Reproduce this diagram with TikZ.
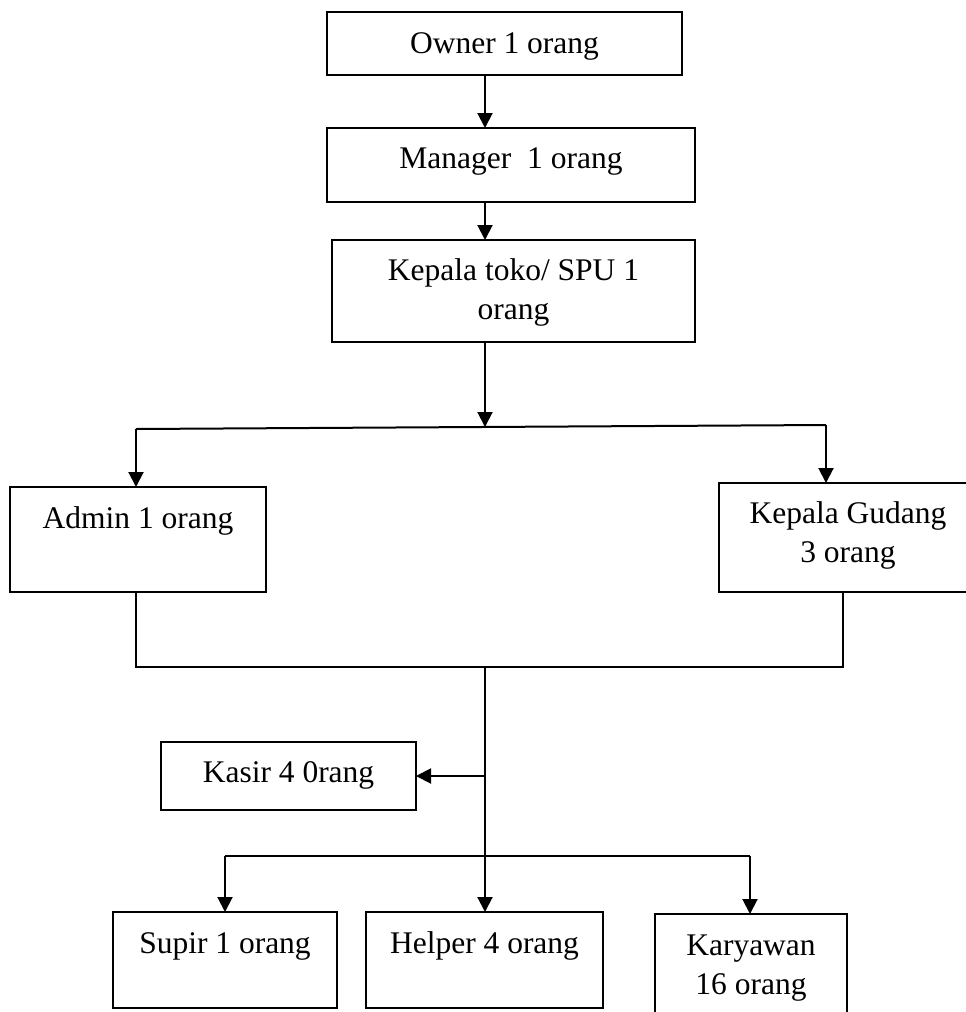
\documentclass[tikz,border=0pt]{standalone}
\usepackage{fontspec}
\setmainfont{Liberation Serif}
\usetikzlibrary{arrows.meta}
\newcommand\twolines[1]{\begin{tabular}[t]{@{}c@{}}#1\end{tabular}}
\begin{document}
\begin{tikzpicture}[x=1pt,y=-1pt,
  box/.style={draw, line width=1.8pt, inner sep=0pt, outer sep=0pt, anchor=north west,
    font=\fontsize{31.5pt}{39pt}\selectfont},
  ln/.style={line width=2pt},
  arr/.style={line width=2pt, -{Triangle[length=15pt,width=15pt]}}]
\useasboundingbox (0,0) rectangle (966,1012);
\node[box, minimum width=355pt, text height=41pt, text depth=22pt] (owner) at (327,12) {Owner 1 orang};
\node[box, minimum width=368pt, text height=40pt, text depth=34pt] (manager) at (327,128) {Manager\ \ 1 orang};
\node[box, minimum width=363pt, text height=40pt, text depth=62pt] (kt) at (332,240) {\twolines{Kepala toko/ SPU 1\\orang}};
\node[box, minimum width=256pt, text height=41pt, text depth=64pt] (admin) at (10,487) {Admin 1 orang};
\node[box, minimum width=258pt, text height=40pt, text depth=69pt] (gudang) at (719,483) {\twolines{Kepala Gudang\\3 orang}};
\node[box, minimum width=255pt, text height=40pt, text depth=28pt] (kasir) at (161,742) {Kasir 4 0rang};
\node[box, minimum width=224pt, text height=41pt, text depth=55pt] (supir) at (113,912) {Supir 1 orang};
\node[box, minimum width=237pt, text height=41pt, text depth=55pt] (helper) at (366,912) {Helper 4 orang};
\node[box, minimum width=192pt, text height=41pt, text depth=59pt] (kary) at (655,914) {\twolines{Karyawan\\16 orang}};
\coordinate (cx) at (485,0);
\coordinate (bm) at (485,427);
\coordinate (bl) at (136,429);
\coordinate (br) at (826,425);
\coordinate (jl) at (136,667);
\coordinate (jr) at (843,667);
\coordinate (jm) at (485,667);
\coordinate (kj) at (485,776);
\coordinate (bl2) at (225,856);
\coordinate (br2) at (750,856);
\draw[arr] (cx |- owner.south) -- (cx |- manager.north);
\draw[arr] (cx |- manager.south) -- (cx |- kt.north);
\draw[arr] (cx |- kt.south) -- (bm);
\draw[ln] (bl) -- (br);
\draw[arr] (bl) -- (bl |- admin.north);
\draw[arr] (br) -- (br |- gudang.north);
\draw[ln] (admin.south -| jl) -- (jl) -- (jr) -- (gudang.south -| jr);
\draw[arr] (jm) -- (cx |- helper.north);
\draw[arr] (kj) -- (kasir.east);
\draw[ln] (bl2) -- (br2);
\draw[arr] (bl2) -- (bl2 |- supir.north);
\draw[arr] (br2) -- (br2 |- kary.north);
\end{tikzpicture}
\end{document}
